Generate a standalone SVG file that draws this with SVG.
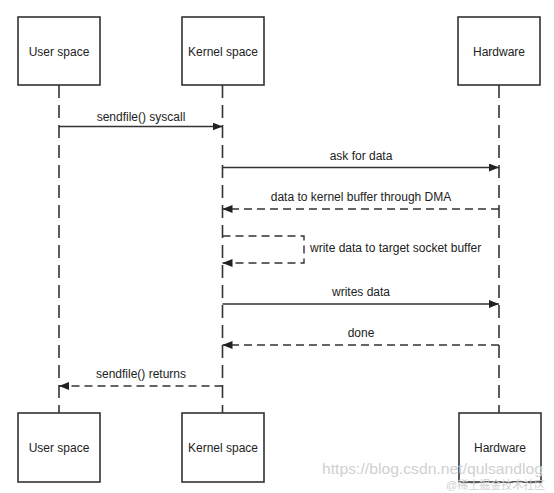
<svg xmlns="http://www.w3.org/2000/svg" width="554" height="493" viewBox="0 0 554 493">
<defs>
<style>
.box{fill:#fff;stroke:#333;stroke-width:1.6}
.life{stroke:#333;stroke-width:1.6;stroke-dasharray:13 7;fill:none}
.msg{stroke:#333;stroke-width:1.4;fill:none}
.ret{stroke:#333;stroke-width:1.4;fill:none;stroke-dasharray:8 5}
.lbl{font-family:"Liberation Sans",Arial,sans-serif;font-size:12px;fill:#222}
.c{text-anchor:middle}
.wm{font-family:"Liberation Sans",Arial,sans-serif;fill:#d0d0d0}
</style>
<marker id="ah" viewBox="0 0 10 8" refX="10" refY="4" markerWidth="10" markerHeight="8" markerUnits="userSpaceOnUse" orient="auto">
<path d="M0,0 L10,4 L0,8 Z" fill="#222"/>
</marker>
</defs>
<rect width="554" height="493" fill="#fff"/>
<g id="lifelines">
<line class="life" x1="59" y1="85" x2="59" y2="413"/>
<line class="life" x1="222.5" y1="85" x2="222.5" y2="413"/>
<line class="life" x1="499" y1="85" x2="499" y2="413"/>
</g>
<g id="node-user-top"><rect class="box" x="18" y="17" width="82" height="68"/><text class="lbl c" x="59" y="56">User space</text></g>
<g id="node-kernel-top"><rect class="box" x="182" y="17" width="82" height="68"/><text class="lbl c" x="223" y="56">Kernel space</text></g>
<g id="node-hw-top"><rect class="box" x="458" y="17" width="82" height="68"/><text class="lbl c" x="499" y="56">Hardware</text></g>
<g id="node-user-bottom"><rect class="box" x="18" y="413" width="82" height="69"/><text class="lbl c" x="59" y="452">User space</text></g>
<g id="node-kernel-bottom"><rect class="box" x="182" y="413" width="82" height="69"/><text class="lbl c" x="223" y="452">Kernel space</text></g>
<g id="node-hw-bottom"><rect class="box" x="459" y="413" width="82" height="69"/><text class="lbl c" x="500" y="452">Hardware</text></g>
<g id="connectors">
<line class="msg" x1="59" y1="126.5" x2="222.5" y2="126.5" marker-end="url(#ah)"/>
<text class="lbl c" x="141" y="121">sendfile() syscall</text>
<line class="msg" x1="222.5" y1="167.5" x2="499" y2="167.5" marker-end="url(#ah)"/>
<text class="lbl c" x="361" y="160">ask for data</text>
<line class="ret" x1="499" y1="209" x2="222.5" y2="209" marker-end="url(#ah)"/>
<text class="lbl c" x="361" y="201">data to kernel buffer through DMA</text>
<path class="ret" d="M222.5,236 H304 V263 H222.5" marker-end="url(#ah)"/>
<text class="lbl" x="310" y="252">write data to target socket buffer</text>
<line class="msg" x1="222.5" y1="304" x2="499" y2="304" marker-end="url(#ah)"/>
<text class="lbl c" x="361" y="296">writes data</text>
<line class="ret" x1="499" y1="345" x2="222.5" y2="345" marker-end="url(#ah)"/>
<text class="lbl c" x="361" y="337">done</text>
<line class="ret" x1="222.5" y1="386" x2="59" y2="386" marker-end="url(#ah)"/>
<text class="lbl c" x="141" y="378">sendfile() returns</text>
</g>
<text class="wm" x="322" y="474" font-size="15" textLength="221" lengthAdjust="spacingAndGlyphs">https://blog.csdn.net/qulsandlog</text>
<text class="wm" x="446" y="489" font-size="11" style="font-family:'Liberation Sans','Noto Sans CJK SC',sans-serif">@稀土掘金技术社区</text>
</svg>
